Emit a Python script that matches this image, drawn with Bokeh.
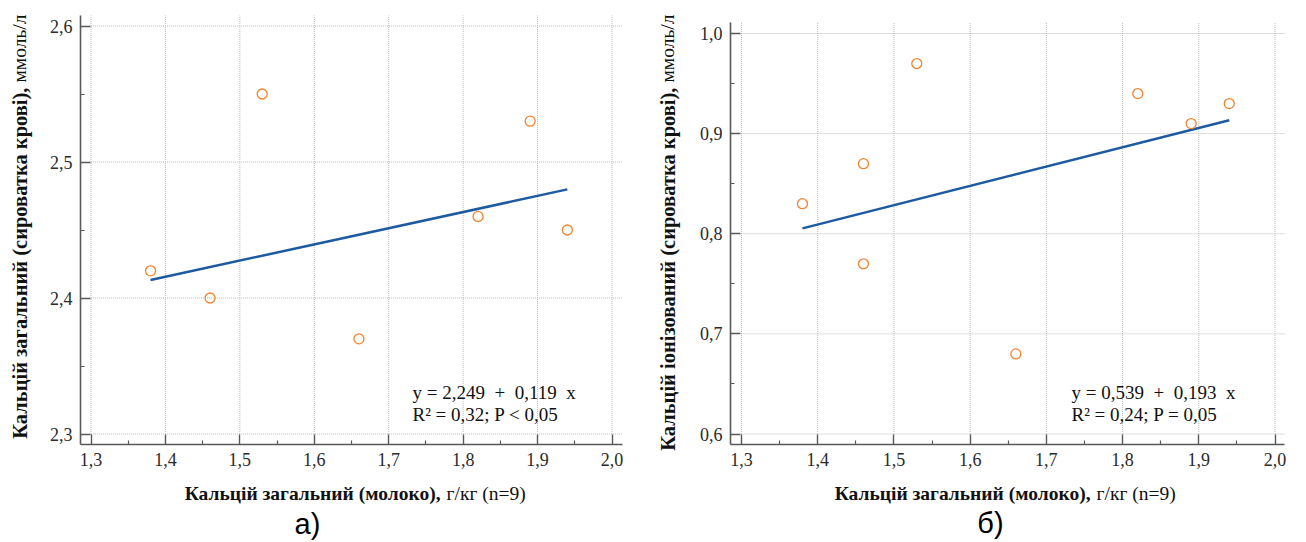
from bokeh.plotting import figure
from bokeh.layouts import row
from bokeh.models import Range1d, FixedTicker, Label, LinearAxis
from bokeh.embed import file_html
from bokeh.resources import INLINE

# ---- data -------------------------------------------------------------
# panel а): total calcium, milk vs blood serum
milk_a = [1.38, 1.46, 1.53, 1.66, 1.82, 1.89, 1.94]
serum_total = [2.42, 2.40, 2.55, 2.37, 2.46, 2.53, 2.45]
intercept_a, slope_a = 2.249, 0.119
eq_a = ["y = 2,249\u00a0\u00a0+\u00a0\u00a00,119\u00a0\u00a0x", "R\u00b2 = 0,32; P < 0,05"]

# panel б): total calcium in milk vs ionised calcium in serum
milk_b = [1.38, 1.46, 1.46, 1.53, 1.66, 1.82, 1.89, 1.94]
serum_ion = [0.83, 0.87, 0.77, 0.97, 0.68, 0.94, 0.91, 0.93]
intercept_b, slope_b = 0.539, 0.193
eq_b = ["y = 0,539\u00a0\u00a0+\u00a0\u00a00,193\u00a0\u00a0x", "R\u00b2 = 0,24; P = 0,05"]

x_ticks = [1.3, 1.4, 1.5, 1.6, 1.7, 1.8, 1.9, 2.0]
x_tick_labels = ["1,3", "1,4", "1,5", "1,6", "1,7", "1,8", "1,9", "2,0"]
x_minor = [1.35, 1.45, 1.55, 1.65, 1.75, 1.85, 1.95]

y_ticks_a = [2.3, 2.4, 2.5, 2.6]
y_tick_labels_a = ["2,3", "2,4", "2,5", "2,6"]
y_minor_a = [2.35, 2.45, 2.55]

y_ticks_b = [0.6, 0.7, 0.8, 0.9, 1.0]
y_tick_labels_b = ["0,6", "0,7", "0,8", "0,9", "1,0"]
y_minor_b = [0.65, 0.75, 0.85, 0.95]

x_title_bold = "Кальцій загальний (молоко),"
x_title_rest = "г/кг (n=9)"
y_title_bold_a = "Кальцій загальний (сироватка крові),"
y_title_bold_b = "Кальцій іонізований (сироватка крові),"
y_title_rest = "ммоль/л"

SERIF = "Liberation Serif"
POINT_COLOR = "#f5822e"
LINE_COLOR = "#1d5aa0"
AXIS_COLOR = "#595959"
GRID_COLOR = "#bdbdbd"
H = 542


def panel(xs, ys, a, b, eq_lines, y_ticks, y_labels, y_minor, y_title_bold, tag, L):
    """L holds the pixel layout of one panel (origin at the panel's top-left)."""
    W = L["width"]
    x0, x1 = x_ticks[0], x_ticks[-1]
    y0, y1 = y_ticks[0], y_ticks[-1]
    kx = (x1 - x0) / (L["px_x1"] - L["px_x0"])
    ky = (y1 - y0) / (L["py_y0"] - L["py_y1"])

    def xd(px):
        return x0 + (px - L["px_x0"]) * kx

    def yd(py):
        return y0 + (L["py_y0"] - py) * ky

    # the frame fills the whole panel; axes are pinned inside it
    p = figure(width=W, height=H, min_border=0,
               x_range=Range1d(xd(0), xd(W)), y_range=Range1d(yd(H), yd(0)),
               x_axis_type=None, y_axis_type=None,
               output_backend="svg", toolbar_location=None,
               outline_line_color=None, background_fill_color="white",
               border_fill_color="white")

    ax_x, ax_y = xd(L["axis_x"]), yd(L["axis_y"])
    x_end, y_end = xd(L["axis_right"]), yd(L["axis_top"])

    # dotted grid from the first tick to the end of the axis lines
    p.segment(x0=x_ticks, y0=[y0] * len(x_ticks), x1=x_ticks, y1=[y_end] * len(x_ticks),
              line_color=GRID_COLOR, line_dash="1 1", line_width=1)
    p.segment(x0=[x0] * len(y_ticks), y0=y_ticks, x1=[x_end] * len(y_ticks), y1=y_ticks,
              line_color=GRID_COLOR, line_dash="1 1", line_width=1)

    xaxis = LinearAxis(fixed_location=ax_y, bounds=(ax_x, x_end))
    yaxis = LinearAxis(fixed_location=ax_x, bounds=(ax_y, y_end))
    for ax, ticks, labels, minor in ((xaxis, x_ticks, x_tick_labels, x_minor),
                                     (yaxis, y_ticks, y_labels, y_minor)):
        ax.ticker = FixedTicker(ticks=ticks, minor_ticks=minor)
        ax.major_label_overrides = dict(zip(ticks, labels))
        ax.axis_line_color = AXIS_COLOR
        ax.axis_line_width = 1.6
        ax.major_tick_line_color = AXIS_COLOR
        ax.major_tick_line_width = 1.4
        ax.minor_tick_line_color = AXIS_COLOR
        ax.minor_tick_line_width = 1.2
        ax.major_tick_in = 10
        ax.major_tick_out = 0
        ax.minor_tick_in = 4
        ax.minor_tick_out = 0
        ax.major_label_text_font = SERIF
        ax.major_label_text_font_size = "18px"
        ax.major_label_text_color = "#2a2a2a"
        ax.major_label_standoff = 8
    p.add_layout(xaxis, "below")
    p.add_layout(yaxis, "left")

    # regression line across the observed x range
    lx = [min(xs), max(xs)]
    p.line(lx, [a + b * v for v in lx], line_color=LINE_COLOR, line_width=2.5)
    p.scatter(xs, ys, marker="circle", size=10, fill_color=None,
              line_color=POINT_COLOR, line_width=1.3)

    def label(x, y, text, **kw):
        opts = dict(x_units="screen", y_units="screen", text_font=SERIF,
                    text_font_size="18px", text_color="#111111",
                    text_baseline="middle", text_align="left")
        opts.update(kw)
        p.add_layout(Label(x=x, y=H - y, text=text, **opts))

    # equation and fit statistics
    for i, txt in enumerate(eq_lines):
        label(L["eq_x"], L["eq_y"] + 22 * i, txt, text_font_size="19px")

    # x-axis title: bold quantity, regular units
    label(L["xt_split"], L["xt_y"], x_title_bold, text_font_style="bold",
          text_align="right", text_font_size="19.5px")
    label(L["xt_split"] + 6, L["xt_y"], x_title_rest, text_font_size="19.5px")

    # y-axis title, reading upwards
    label(L["yt_x"], L["yt_split"], y_title_bold, text_font_style="bold",
          text_align="right", angle=90, angle_units="deg", text_font_size="20.5px")
    label(L["yt_x"], L["yt_split"] - 5, y_title_rest, angle=90, angle_units="deg",
          text_font_size="19.5px")

    # panel tag
    label(L["tag_x"], L["tag_y"], tag, text_font="Liberation Sans",
          text_font_size="29px", text_align="center", text_color="#000000")
    return p


layout_a = dict(width=650, px_x0=90.5, px_x1=611.5, py_y0=433.5, py_y1=25.5,
                axis_x=80, axis_y=444, axis_right=622, axis_top=15,
                eq_x=412, eq_y=392, xt_split=440, xt_y=493, yt_x=19, yt_split=87,
                tag_x=307, tag_y=523)
layout_b = dict(width=656, px_x0=91, px_x1=624.5, py_y0=433.5, py_y1=33,
                axis_x=80, axis_y=444, axis_right=634, axis_top=22,
                eq_x=421, eq_y=392, xt_split=440, xt_y=493, yt_x=17, yt_split=87,
                tag_x=340, tag_y=522)

p_a = panel(milk_a, serum_total, intercept_a, slope_a, eq_a,
            y_ticks_a, y_tick_labels_a, y_minor_a, y_title_bold_a, "а)", layout_a)
p_b = panel(milk_b, serum_ion, intercept_b, slope_b, eq_b,
            y_ticks_b, y_tick_labels_b, y_minor_b, y_title_bold_b, "б)", layout_b)

page = row(p_a, p_b)
open("out.html", "w").write(file_html(page, INLINE))
